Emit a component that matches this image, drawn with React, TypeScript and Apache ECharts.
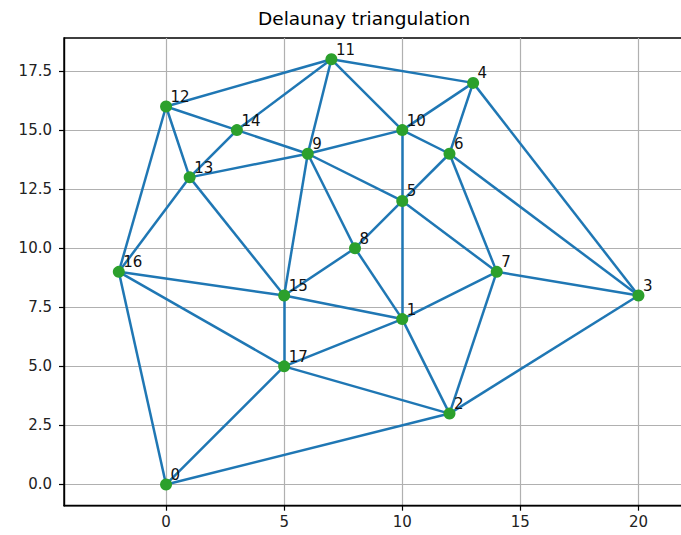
import React, { useEffect, useRef } from "react";
import * as echarts from "echarts";

const pointX = [0, 10, 12, 20, 13, 10, 12, 14, 8, 6, 10, 7, 0, 1, 3, 5, -2, 5];
const pointY = [0, 7, 3, 8, 17, 12, 14, 9, 10, 14, 15, 18, 16, 13, 15, 8, 9, 5];
const edges: [number, number][] = [
  [0, 16], [0, 17], [0, 2],
  [16, 12], [16, 13], [16, 15], [16, 17],
  [12, 11], [12, 14], [12, 13],
  [13, 14], [13, 9], [13, 15],
  [14, 11], [14, 9],
  [11, 9], [11, 10], [11, 4],
  [9, 10], [9, 5], [9, 8], [9, 15],
  [10, 4], [10, 6], [10, 5],
  [4, 6], [4, 3],
  [6, 5], [6, 7], [6, 3],
  [5, 8], [5, 1], [5, 7],
  [8, 15], [8, 1],
  [15, 1], [15, 17],
  [17, 1], [17, 2],
  [1, 7], [1, 2],
  [7, 2], [7, 3],
  [2, 3],
];
const xTicks = [0, 5, 10, 15, 20];
const yTicks = [0, 2.5, 5, 7.5, 10, 12.5, 15, 17.5];
const titleText = "Delaunay triangulation";

const FONT = "DejaVu Sans";

export default function App() {
  const ref = useRef<HTMLDivElement>(null);
  useEffect(() => {
    if (!ref.current) return;
    const chart = echarts.init(ref.current, null, { renderer: "svg" });
    const axisCommon = {
      type: "value" as const,
      axisLine: { show: true, onZero: false, lineStyle: { color: "#000", width: 1.4 } },
      splitLine: { show: true, lineStyle: { color: "#b0b0b0", width: 1.2 } },
    };
    chart.setOption({
      animation: false,
      backgroundColor: "#fff",
      title: {
        text: titleText,
        left: 253,
        top: 4,
        textStyle: { fontFamily: FONT, fontSize: 18.5, fontWeight: "normal", color: "#000" },
      },
      grid: {
        left: 64,
        top: 38,
        width: 629.5,
        height: 467.7,
        show: true,
        borderColor: "#000",
        borderWidth: 1.4,
        backgroundColor: "transparent",
      },
      xAxis: {
        ...axisCommon,
        min: -4.32,
        max: 22.33,
        axisTick: { show: true, length: 5, customValues: xTicks, lineStyle: { color: "#000", width: 1.2 } },
        axisLabel: {
          customValues: xTicks,
          margin: 9,
          fontFamily: FONT,
          fontSize: 15,
          color: "#222",
          formatter: (v: number) => String(v),
        },
      },
      yAxis: {
        ...axisCommon,
        min: -0.9,
        max: 18.9,
        axisTick: { show: true, length: 5, customValues: yTicks, lineStyle: { color: "#000", width: 1.2 } },
        axisLabel: {
          customValues: yTicks,
          margin: 12,
          fontFamily: FONT,
          fontSize: 15,
          color: "#222",
          formatter: (v: number) => v.toFixed(1),
        },
      },
      series: [
        {
          type: "lines",
          coordinateSystem: "cartesian2d",
          z: 2,
          silent: true,
          lineStyle: { color: "#1f77b4", width: 2.5, opacity: 1 },
          data: edges.map(([a, b]) => ({
            coords: [
              [pointX[a], pointY[a]],
              [pointX[b], pointY[b]],
            ],
          })),
        },
        {
          type: "scatter",
          z: 3,
          symbol: "circle",
          symbolSize: 12,
          itemStyle: { color: "#2ca02c", opacity: 1 },
          label: {
            show: true,
            position: [10.5, 4],
            align: "left",
            verticalAlign: "bottom",
            fontFamily: FONT,
            fontSize: 15,
            color: "#111",
            formatter: (p: any) => String(p.dataIndex),
          },
          data: pointX.map((x, i) => [x, pointY[i]]),
        },
      ],
    });
    return () => chart.dispose();
  }, []);
  return (
    <div
      style={{
        position: "fixed",
        left: 0,
        top: 0,
        width: 681,
        height: 535,
        overflow: "hidden",
        background: "#fff",
      }}
    >
      <div ref={ref} style={{ width: 720, height: 535 }} />
    </div>
  );
}
